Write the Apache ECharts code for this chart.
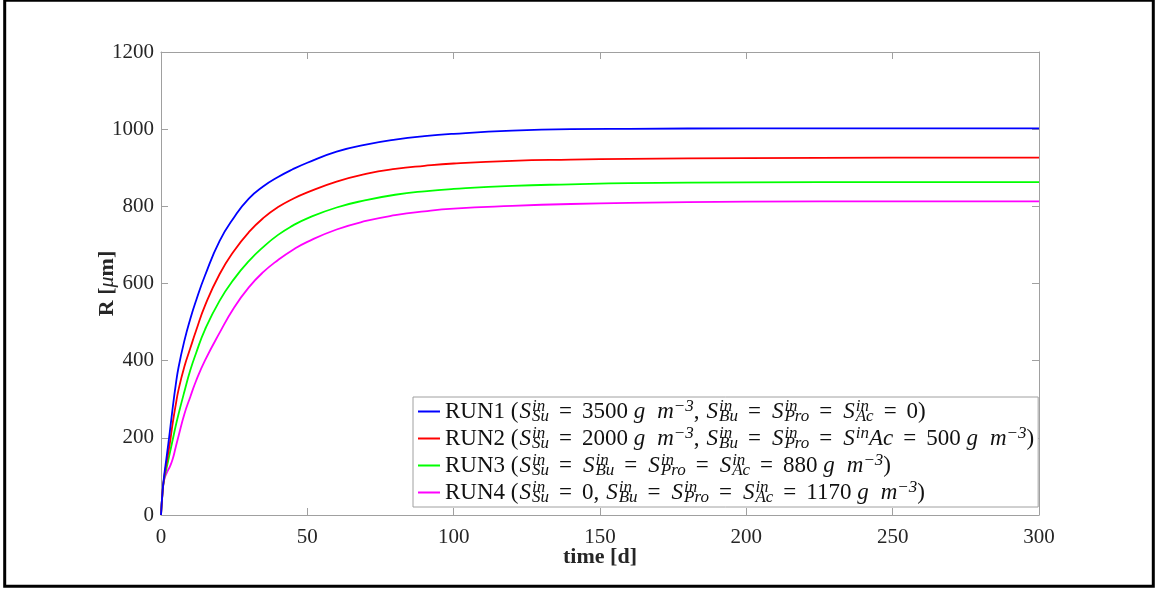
<!DOCTYPE html>
<html>
<head>
<meta charset="utf-8">
<script src="https://cdn.jsdelivr.net/npm/echarts@6/dist/echarts.min.js"></script>
<style>
html,body{margin:0;padding:0;background:#fff;}
#chart{width:1156px;height:590px;}
</style>
</head>
<body>
<div id="chart"></div>
<script>
// ---- data ----
const timeDays = [0, 0.5, 1, 2, 3, 4, 5, 6, 8, 10, 12, 15, 20, 25, 30, 35, 40, 45, 50, 60, 70, 80, 90, 100, 120, 140, 160, 200, 250, 300];
const run1 = [0, 58, 97, 155, 215, 278, 335, 383, 452, 508, 556, 620, 710, 772, 820, 852, 876, 896, 913, 942, 960, 973, 982, 988, 996, 1000, 1001, 1002, 1002, 1002];
const run2 = [0, 56, 93, 140, 185, 238, 284, 325, 385, 432, 478, 542, 624, 685, 733, 770, 798, 819, 836, 864, 884, 897, 905, 911, 918, 921, 923, 925, 926, 926];
const run3 = [0, 56, 90, 125, 160, 195, 230, 262, 320, 375, 420, 480, 555, 612, 658, 695, 726, 750, 769, 797, 816, 830, 839, 845, 853, 857, 860, 862, 863, 863];
const run4 = [0, 56, 88, 110, 125, 145, 175, 205, 262, 306, 348, 400, 472, 538, 590, 630, 661, 687, 708, 740, 762, 777, 787, 794, 801, 806, 809, 812, 813, 813];
const seriesNames = ['RUN1', 'RUN2', 'RUN3', 'RUN4'];
const seriesColors = ['#0000ff', '#ff0000', '#00ff00', '#ff00ff'];
const legendLabels = [
  '{r|RUN1 (}{S|S}{p0|in}{b|Su}{e|=}{r|3500 }{g|g}{i|m}{p|−3}{c|,}{S|S}{p0|in}{b|Bu}{e|=}{S|S}{p0|in}{b|Pro}{e|=}{S|S}{p0|in}{b|Ac}{e|=}{r|0)}',
  '{r|RUN2 (}{S|S}{p0|in}{b|Su}{e|=}{r|2000 }{g|g}{i|m}{p|−3}{c|,}{S|S}{p0|in}{b|Bu}{e|=}{S|S}{p0|in}{b|Pro}{e|=}{S|S}{p|in}{i|Ac}{e|=}{r|500 }{g|g}{i|m}{p|−3}{r|)}',
  '{r|RUN3 (}{S|S}{p0|in}{b|Su}{e|=}{S|S}{p0|in}{b|Bu}{e|=}{S|S}{p0|in}{b|Pro}{e|=}{S|S}{p0|in}{b|Ac}{e|=}{r|880 }{g|g}{i|m}{p|−3}{r|)}',
  '{r|RUN4 (}{S|S}{p0|in}{b|Su}{e|=}{r|0}{c|,}{S|S}{p0|in}{b|Bu}{e|=}{S|S}{p0|in}{b|Pro}{e|=}{S|S}{p0|in}{b|Ac}{e|=}{r|1170 }{g|g}{i|m}{p|−3}{r|)}'
];
const xTicks = {min: 0, max: 300, interval: 50};
const yTicks = {min: 0, max: 1200, interval: 200};
const xTitle = 'time [d]';
const yTitle = '{b|R [}{m|μ}{b|m]}';

// ---- chart ----
const runs = [run1, run2, run3, run4];
const SERIF = '"Liberation Serif", "DejaVu Serif", serif';
const axisGray = '#a0a0a0';
const labelColor = '#262626';
const legendColor = '#111111';
const chart = echarts.init(document.getElementById('chart'), null, {renderer: 'canvas'});

function baseAxis(extra) {
  return Object.assign({
    type: 'value',
    axisLine: {show: true, onZero: false, lineStyle: {color: axisGray, width: 1}},
    axisTick: {show: true, inside: true, length: 7, lineStyle: {color: axisGray, width: 1}},
    splitLine: {show: false},
    axisLabel: {show: false}
  }, extra);
}

function rs(o) {
  return Object.assign({fontFamily: SERIF, fontSize: 23, color: legendColor, lineHeight: 27}, o);
}

const option = {
  backgroundColor: '#ffffff',
  animation: false,
  grid: {left: 161, right: 117, top: 52, bottom: 75, outerBoundsMode: 'none', containLabel: false},
  graphic: [{
    type: 'rect', z: 100, silent: true,
    shape: {x: 4.7, y: 0.3, width: 1148.6, height: 586},
    style: {fill: 'none', stroke: '#000', lineWidth: 3}
  }],
  xAxis: [
    baseAxis(Object.assign({
      position: 'bottom',
      name: xTitle, nameLocation: 'middle', nameGap: 31, nameMoveOverlap: false,
      nameTextStyle: {fontFamily: SERIF, fontSize: 22, fontWeight: 'bold', color: labelColor},
      axisLabel: {show: true, margin: 12, fontFamily: SERIF, fontSize: 21, color: labelColor,
        formatter: function (v) { return String(v); }}
    }, xTicks)),
    baseAxis(Object.assign({position: 'top'}, xTicks))
  ],
  yAxis: [
    baseAxis(Object.assign({
      position: 'left',
      name: yTitle, nameLocation: 'middle', nameGap: 43, nameMoveOverlap: false,
      nameTextStyle: {fontFamily: SERIF, fontSize: 22, color: labelColor,
        rich: {
          b: {fontFamily: SERIF, fontSize: 22, fontWeight: 'bold', color: labelColor},
          m: {fontFamily: SERIF, fontSize: 22, fontStyle: 'italic', color: labelColor}
        }},
      axisLabel: {show: true, margin: 7, fontFamily: SERIF, fontSize: 21, color: labelColor,
        formatter: function (v) { return String(v); }}
    }, yTicks)),
    baseAxis(Object.assign({position: 'right'}, yTicks))
  ],
  legend: {
    show: true,
    orient: 'vertical',
    left: 413,
    top: 397,
    padding: [1, 4, 1, 4],
    itemGap: 0,
    itemWidth: 22,
    itemHeight: 14,
    itemStyle: {opacity: 0},
    backgroundColor: '#ffffff',
    borderColor: '#a0a0a0',
    borderWidth: 1,
    borderRadius: 0,
    data: seriesNames,
    formatter: function (name) { return legendLabels[seriesNames.indexOf(name)]; },
    textStyle: {
      fontFamily: SERIF, fontSize: 23, color: legendColor, lineHeight: 27,
      rich: {
        r: rs({}),
        i: rs({fontStyle: 'italic'}),
        S: rs({fontStyle: 'italic', padding: [0, 1, 0, 1]}),
        g: rs({fontStyle: 'italic', padding: [0, 12, 0, 0]}),
        c: rs({padding: [0, 6, 0, 0]}),
        e: rs({padding: [0, 10, 0, 10]}),
        p0: rs({fontSize: 17, fontStyle: 'italic', verticalAlign: 'top', width: 0}),
        p: rs({fontSize: 17, fontStyle: 'italic', verticalAlign: 'top'}),
        b: rs({fontSize: 17, fontStyle: 'italic', verticalAlign: 'bottom'})
      }
    }
  },
  series: runs.map(function (vals, k) {
    return {
      name: seriesNames[k],
      type: 'line',
      xAxisIndex: 0,
      yAxisIndex: 0,
      data: timeDays.map(function (t, j) { return [t, vals[j]]; }),
      showSymbol: false,
      symbol: 'none',
      smooth: 0.5,
      color: seriesColors[k],
      lineStyle: {color: seriesColors[k], width: 1.8},
      itemStyle: {color: seriesColors[k]},
      z: 2 + (3 - k)
    };
  })
};
chart.setOption(option);
</script>
</body>
</html>
